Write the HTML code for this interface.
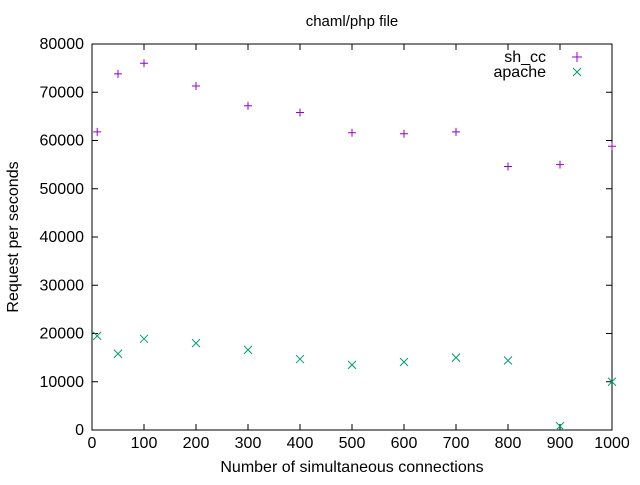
<!DOCTYPE html>
<html><head><meta charset="utf-8"><style>
body{margin:0;background:#fff}
svg{font-family:"Liberation Sans",sans-serif;font-size:16px}
</style></head><body>
<svg id="c" width="640" height="480">
<rect x="0" y="0" width="640" height="480" fill="#fff"/>
<text x="352" y="26" text-anchor="middle" font-size="15">chaml/php file</text>
<text transform="translate(18,237) rotate(-90)" text-anchor="middle">Request per seconds</text>
<text x="352" y="472" text-anchor="middle">Number of simultaneous connections</text>
<g id="axes"></g><g id="marks"></g>
<g>
<text x="546" y="62" text-anchor="end">sh_cc</text>
<path d="M572 57h10M577 52v10" stroke="#9400d3"/>
<text x="546" y="77" text-anchor="end">apache</text>
<path d="M573 68l8 8M581 68l-8 8" stroke="#009e73"/>
</g>
</svg>
<script>
const xs=[10,50,100,200,300,400,500,600,700,800,900,1000];
const shcc=[61800,73800,76000,71300,67200,65800,61600,61400,61800,54600,55000,58800];
const apache=[19500,15800,18900,18000,16600,14700,13500,14100,15000,14400,800,10000];
const xTicks=[0,100,200,300,400,500,600,700,800,900,1000];
const yTicks=[0,10000,20000,30000,40000,50000,60000,70000,80000];
const L=92,R=612,T=44,B=430;
const X=v=>L+(v/1000)*(R-L);
const Y=v=>B-(v/80000)*(B-T);
const NS="http://www.w3.org/2000/svg";
const axes=document.getElementById('axes'),marks=document.getElementById('marks');
function mk(t,a,p){const e=document.createElementNS(NS,t);for(const k in a)e.setAttribute(k,a[k]);p.appendChild(e);return e;}
const fr=mk('rect',{x:L,y:T,width:R-L,height:B-T,fill:'none',stroke:'#000'},axes);


yTicks.forEach(v=>{const y=Y(v);
 mk('path',{d:`M${L} ${y}h6M${R} ${y}h-6`,stroke:'#000'},axes);
 const t=mk('text',{x:L-8,y:y+5,'text-anchor':'end'},axes);t.textContent=v;
 
 });
xTicks.forEach(v=>{const x=X(v);
 mk('path',{d:`M${x} ${B}v-6M${x} ${T}v6`,stroke:'#000'},axes);
 const t=mk('text',{x:x,y:B+18,'text-anchor':'middle'},axes);t.textContent=v;
 
 });
xs.forEach((v,i)=>{const x=X(v),y=Y(shcc[i]);
 const p=mk('path',{d:`M${x-4} ${y}h8M${x} ${y-4}v8`,stroke:'#9400d3'},marks);
 
 
 const y2=Y(apache[i]);
 const q=mk('path',{d:`M${x-4} ${y2-4}l8 8M${x+4} ${y2-4}l-8 8`,stroke:'#009e73'},marks);
 
 });
</script>
</body></html>
